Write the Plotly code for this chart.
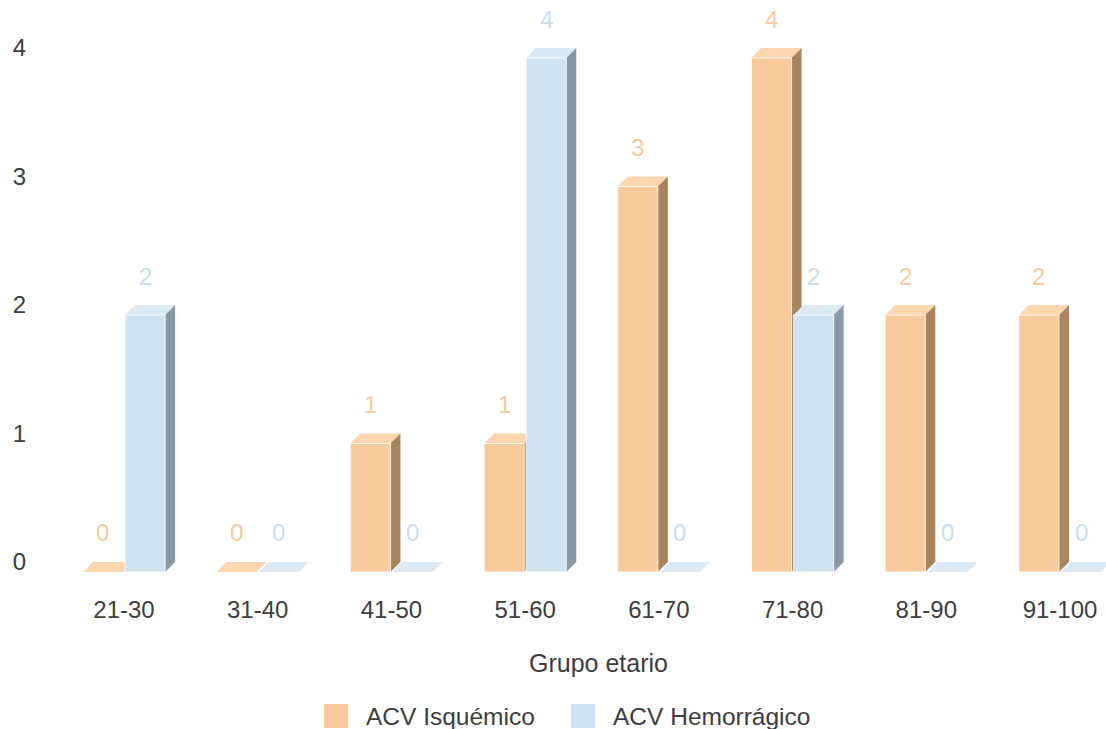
import plotly.graph_objects as go

# Casos de ACV por grupo etario
grupos = ["21-30", "31-40", "41-50", "51-60", "61-70", "71-80", "81-90", "91-100"]
isquemico = [0, 0, 1, 1, 3, 4, 2, 2]
hemorragico = [2, 0, 0, 4, 0, 2, 0, 0]
y_ticks = [0, 1, 2, 3, 4]

# Figure geometry (pixels) and axis ranges
W, H = 1106, 729
M_L, M_R, M_T, M_B = 45, 0, 10, 139
X_RANGE = [-0.5908, 7.344]
Y_RANGE = [-0.218, 4.296]
PLOT_W = W - M_L - M_R
PLOT_H = H - M_T - M_B
PX_X = PLOT_W / (X_RANGE[1] - X_RANGE[0])
PX_Y = PLOT_H / (Y_RANGE[1] - Y_RANGE[0])

# Pseudo-3D depth of each bar, converted into axis units
DEPTH_PX = 10
DX = DEPTH_PX / PX_X
DY = DEPTH_PX / PX_Y
BAR_W = 0.30
GAP = 0.0075

FONT = "Liberation Sans, Arial, sans-serif"
TEXT = "#3d3d3d"
TICK_SIZE = 24
LABEL_SIZE = 24

series = [
    dict(name="ACV Isquémico", values=isquemico, offset=-GAP - BAR_W,
         front="#F9CB9C", top="#FBD6B0", side="#A8845F", label="#F9CB9C"),
    dict(name="ACV Hemorrágico", values=hemorragico, offset=GAP,
         front="#CFE2F3", top="#DCEAF6", side="#8A98A5", label="#CADDF0"),
]


def faces(values, offset):
    front_x, front_y, top_x, top_y, side_x, side_y = [], [], [], [], [], []
    for i, v in enumerate(values):
        x0 = i + offset
        x1 = x0 + BAR_W
        top_x += [x0, x1, x1 + DX, x0 + DX, x0, None]
        top_y += [v - DY, v - DY, v, v, v - DY, None]
        if v > 0:
            front_x += [x0, x1, x1, x0, x0, None]
            front_y += [-DY, -DY, v - DY, v - DY, -DY, None]
            side_x += [x1, x1 + DX, x1 + DX, x1, x1, None]
            side_y += [-DY, 0, v, v - DY, -DY, None]
    return (front_x, front_y), (top_x, top_y), (side_x, side_y)


fig = go.Figure()
annotations = []

for s in series:
    (fx, fy), (tx, ty), (sx, sy) = faces(s["values"], s["offset"])
    fig.add_trace(go.Scatter(x=tx, y=ty, mode="lines", fill="toself",
                             fillcolor=s["top"], line=dict(width=0),
                             hoverinfo="skip", showlegend=False))
    fig.add_trace(go.Scatter(x=sx, y=sy, mode="lines", fill="toself",
                             fillcolor=s["side"], line=dict(width=0),
                             hoverinfo="skip", showlegend=False))
    fig.add_trace(go.Scatter(x=fx, y=fy, mode="lines", fill="toself",
                             fillcolor=s["front"],
                             line=dict(width=1, color="rgba(255,255,255,0.8)"),
                             hoverinfo="skip", showlegend=False,
                             name=s["name"]))
    for i, v in enumerate(s["values"]):
        annotations.append(dict(
            x=i + s["offset"] + BAR_W / 2, y=v, xref="x", yref="y",
            text=str(v), showarrow=False, yshift=29,
            font=dict(family=FONT, size=LABEL_SIZE, color=s["label"]),
        ))


def px_to_paper_x(px):
    return (px - M_L) / PLOT_W


def px_to_paper_y(py):
    return (H - M_B - py) / PLOT_H


# Axis title
annotations.append(dict(
    x=px_to_paper_x(598), y=px_to_paper_y(663), xref="paper", yref="paper",
    text="Grupo etario", showarrow=False, xanchor="center", yanchor="middle",
    font=dict(family=FONT, size=25, color=TEXT),
))

# Legend built from swatches and labels
shapes = []
legend_items = [(324, 364, series[0]), (571, 611, series[1])]
for sw_x, txt_x, s in legend_items:
    shapes.append(dict(
        type="rect", xref="paper", yref="paper",
        x0=px_to_paper_x(sw_x), x1=px_to_paper_x(sw_x + 24),
        y0=px_to_paper_y(728), y1=px_to_paper_y(704),
        fillcolor=s["front"], line=dict(width=0),
    ))
    annotations.append(dict(
        x=px_to_paper_x(txt_x), y=px_to_paper_y(716), xref="paper", yref="paper",
        text=s["name"], showarrow=False, xanchor="left", yanchor="middle",
        font=dict(family=FONT, size=24.5, color=TEXT),
    ))

fig.update_layout(
    width=W, height=H,
    margin=dict(l=M_L, r=M_R, t=M_T, b=M_B),
    paper_bgcolor="white", plot_bgcolor="white",
    showlegend=False,
    annotations=annotations,
    shapes=shapes,
    font=dict(family=FONT, size=TICK_SIZE, color=TEXT),
)
fig.update_xaxes(
    range=X_RANGE, tickvals=list(range(len(grupos))), ticktext=grupos,
    showgrid=False, zeroline=False, showline=False, ticks="",
    tickfont=dict(family=FONT, size=TICK_SIZE, color=TEXT),
    ticklabelstandoff=3, fixedrange=True,
)
fig.update_yaxes(
    range=Y_RANGE, tickvals=y_ticks, ticktext=[str(t) for t in y_ticks],
    showgrid=False, zeroline=False, showline=False, ticks="",
    tickfont=dict(family=FONT, size=TICK_SIZE, color=TEXT),
    ticklabelstandoff=18, fixedrange=True,
)

fig.write_html("out.html")
